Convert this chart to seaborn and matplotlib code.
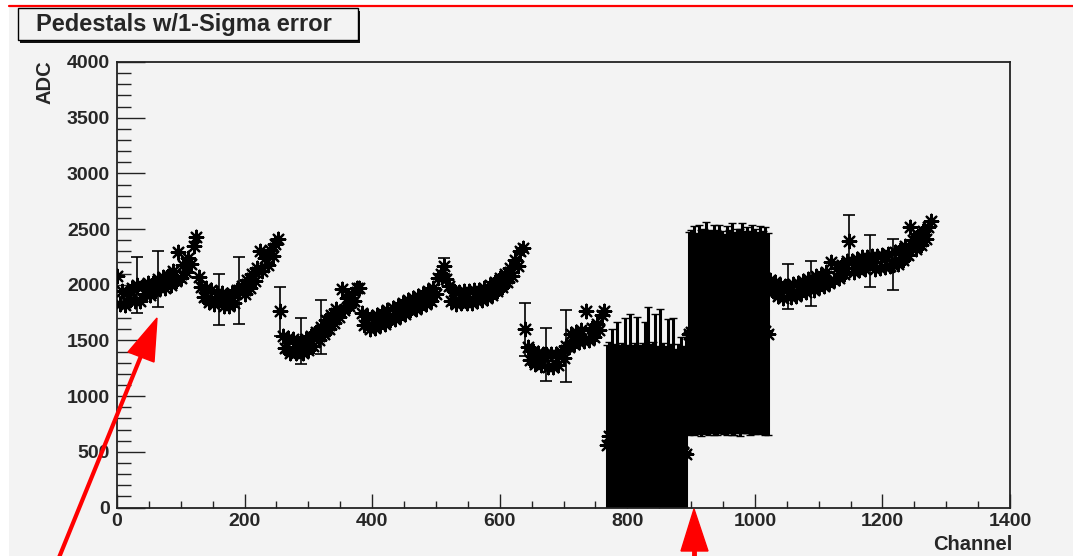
import numpy as np
import pandas as pd
import seaborn as sns
import matplotlib.pyplot as plt
from matplotlib.patches import Rectangle, Polygon
from matplotlib.lines import Line2D
from matplotlib.ticker import MultipleLocator

# pedestal means, one value every 4th channel
seg_a = [2080, 1830, 1940, 1815, 1925, 1860, 1975, 1850, 2000, 1855, 1990, 1920, 2020, 1905, 2015, 1940,
         2050, 1970, 2070, 1970, 2080, 2000, 2120, 2035, 2290, 2060, 2180, 2115, 2240, 2190, 2350, 2430]
seg_b = [2070, 1980, 1890, 1970, 1845, 1950, 1830, 1930, 1870, 1925, 1810, 1910, 1805, 1930, 1840, 1955,
         1950, 1990, 1920, 2045, 1970, 2095, 2035, 2150, 2300, 2120, 2240, 2175, 2310, 2260, 2370, 2410]
seg_c = [1760, 1540, 1430, 1520, 1390, 1510, 1390, 1480, 1495, 1385, 1510, 1410, 1540, 1450, 1580, 1505,
         1620, 1560, 1680, 1600, 1730, 1660, 1785, 1710, 1960, 1770, 1880, 1810, 1920, 1855, 1970, 1970]
seg_d = [1750, 1640, 1715, 1605, 1710, 1615, 1725, 1640, 1750, 1650, 1770, 1680, 1790, 1690, 1810, 1720,
         1835, 1735, 1860, 1770, 1880, 1780, 1900, 1810, 1920, 1830, 1945, 1855, 1970, 1920, 2060, 2100]
seg_e = [2170, 2050, 1990, 1850, 1940, 1825, 1935, 1835, 1940, 1840, 1945, 1835, 1950, 1850, 1955, 1860,
         1970, 1880, 1995, 1910, 2025, 1940, 2060, 1980, 2100, 2025, 2150, 2080, 2220, 2170, 2300, 2330]
seg_f = [1600, 1440, 1320, 1405, 1285, 1390, 1275, 1380, 1375, 1265, 1375, 1265, 1380, 1275, 1400, 1340,
         1450, 1440, 1560, 1470, 1580, 1485, 1590, 1495, 1760, 1505, 1615, 1530, 1650, 1590, 1730, 1760]
block_1 = [560, 640, 600, 690, 620, 580, 660, 700, 610, 640, 590, 680, 630, 600, 670, 620,
           650, 590, 700, 640, 610, 660, 580, 630, 690, 600, 650, 620, 570, 530, 500, 480]
block_1_err = [900, 850, 1000, 780, 1050, 880, 820, 1000, 850, 1100, 870, 800, 1080, 860, 810, 1050,
               1150, 880, 790, 1100, 840, 1120, 900, 820, 1000, 870, 1050, 800, 900, 1000, 950, 1050]
block_2 = [1560, 1575, 1590, 1565, 1600, 1570, 1585, 1610, 1565, 1580, 1595, 1570, 1605, 1575, 1560, 1590,
           1580, 1600, 1565, 1585, 1570, 1610, 1575, 1590, 1565, 1600, 1580, 1570, 1595, 1575, 1585, 1560]
block_2_err = [910, 915, 940, 900, 940, 925, 920, 950, 915, 910, 945, 920, 935, 905, 900, 940,
               915, 950, 910, 920, 930, 945, 910, 925, 915, 940, 920, 905, 935, 910, 930, 905]
seg_i = [2040, 1940, 2025, 1900, 2000, 1880, 1992, 1985, 1890, 2005, 1900, 2020, 1930, 2035, 1935, 2050,
         2010, 1955, 2075, 1980, 2090, 1990, 2110, 2020, 2200, 2040, 2150, 2065, 2180, 2095, 2210, 2390]
seg_j = [2210, 2115, 2235, 2130, 2245, 2140, 2250, 2215, 2255, 2145, 2260, 2150, 2265, 2160, 2275, 2170,
         2180, 2290, 2190, 2315, 2220, 2350, 2270, 2520, 2400, 2320, 2440, 2360, 2480, 2410, 2520, 2570]

# the few visible sigma bars outside the two noisy blocks
err_channels = [32, 64, 160, 192, 256, 288, 320, 512, 640, 672, 704, 1052, 1088, 1148, 1180, 1216]
err_sigma = [250, 250, 230, 300, 220, 205, 240, 70, 240, 235, 320, 205, 200, 240, 235, 230]

W, H = 1073, 556
bg = '#f3f3f3'

sns.set_style('ticks')
plt.rcParams['font.family'] = ['Liberation Sans', 'DejaVu Sans']
plt.rcParams['font.weight'] = 'bold'


def px(x, y):
    return x / W, 1 - y / H


channel = np.arange(0, 1280, 4)
adc = np.concatenate([seg_a, seg_b, seg_c, seg_d, seg_e, seg_f, block_1, block_2, seg_i, seg_j])
df = pd.DataFrame({'channel': channel, 'adc': adc})

fig = plt.figure(figsize=(W / 100, H / 100), dpi=100, facecolor='white')
fig.add_artist(Rectangle(px(9, 556), (W - 9) / W, 550 / H, transform=fig.transFigure,
                         facecolor=bg, edgecolor='none', zorder=-1))
fig.add_artist(Line2D([9 / W, 1], [1 - 6 / H] * 2, transform=fig.transFigure, color='red', lw=1.6))

ax = fig.add_axes([117 / W, 1 - 507.5 / H, (1010 - 117) / W, (507.5 - 62) / H])
ax.set_facecolor('none')

# noisy blocks: sigma bars so wide they merge into solid black
b1_ch = channel[(channel >= 768) & (channel < 896)]
b2_ch = channel[(channel >= 896) & (channel < 1024)]
ax.errorbar(b1_ch, block_1, yerr=block_1_err, fmt='none', ecolor='black', elinewidth=2.2,
            capsize=3, capthick=1, zorder=2)
ax.errorbar(b2_ch, block_2, yerr=block_2_err, fmt='none', ecolor='black', elinewidth=2.2,
            capsize=3, capthick=1, zorder=2)

err_vals = [adc[c // 4] for c in err_channels]
ax.errorbar(err_channels, err_vals, yerr=err_sigma, fmt='none', ecolor='black', elinewidth=1.2,
            capsize=4, capthick=1.2, zorder=2)

sns.scatterplot(data=df, x='channel', y='adc', marker=(8, 2, 0), s=95, color='black',
                linewidth=1.6, ax=ax, zorder=3, legend=False)

ax.set_xlim(0, 1400)
ax.set_ylim(0, 4000)
ax.set_xlabel('')
ax.set_ylabel('')
ax.xaxis.set_major_locator(MultipleLocator(200))
ax.xaxis.set_minor_locator(MultipleLocator(50))
ax.yaxis.set_major_locator(MultipleLocator(500))
ax.yaxis.set_minor_locator(MultipleLocator(100))
ax.tick_params(axis='both', which='both', direction='in', width=1, color='#222222',
               top=False, right=False, labelsize=14)
ax.tick_params(axis='y', which='major', length=20, pad=5)
ax.tick_params(axis='y', which='minor', length=10)
ax.tick_params(axis='x', which='major', length=10, pad=4)
ax.tick_params(axis='x', which='minor', length=5)
for s in ax.spines.values():
    s.set_visible(True)
    s.set_linewidth(1.3)
    s.set_color('#222222')

fig.text(45 / W, 1 - 60 / H, 'ADC', rotation=90, ha='center', va='top', fontsize=14.5, fontweight='bold')
fig.text(1012 / W, 1 - 545 / H, 'Channel', ha='right', va='center', fontsize=14.5, fontweight='bold')

# title box with shadow
fig.add_artist(Rectangle(px(20, 43), 340 / W, 32 / H, transform=fig.transFigure,
                         facecolor='#111111', edgecolor='none', zorder=1))
fig.add_artist(Rectangle(px(18, 40), 340 / W, 32 / H, transform=fig.transFigure,
                         facecolor=bg, edgecolor='black', lw=1, zorder=2))
fig.text(36 / W, 1 - 24 / H, 'Pedestals w/1-Sigma error', ha='left', va='center',
         fontsize=17, fontweight='bold', zorder=3)

# red arrows
fig.add_artist(Line2D([58 / W, 141 / W], [1 - 560 / H, 1 - 356 / H], transform=fig.transFigure,
                      color='red', lw=3, zorder=5))
fig.add_artist(Polygon([px(157, 318), px(128, 352), px(154, 362)], closed=True,
                       transform=fig.transFigure, facecolor='red', edgecolor='red', zorder=5))
fig.add_artist(Line2D([694 / W, 694 / W], [1 - 560 / H, 1 - 550 / H], transform=fig.transFigure,
                      color='red', lw=3.5, zorder=5))
fig.add_artist(Polygon([px(694, 509), px(681, 551), px(708, 551)], closed=True,
                       transform=fig.transFigure, facecolor='red', edgecolor='red', zorder=5))

fig.savefig('out.png', dpi=100, facecolor='white')
